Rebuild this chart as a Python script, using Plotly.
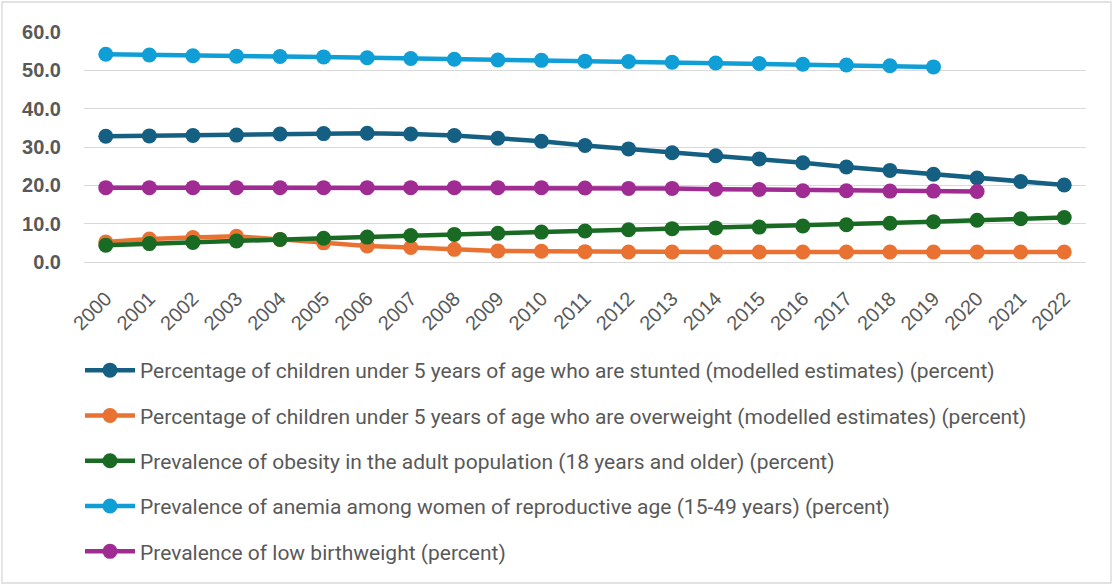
import plotly.graph_objects as go

years = [str(y) for y in range(2000, 2023)]

stunted = [32.8, 32.9, 33.0, 33.1, 33.4, 33.5, 33.6, 33.4, 33.0, 32.3, 31.5, 30.4,
           29.5, 28.5, 27.7, 26.9, 25.9, 24.8, 23.9, 22.9, 21.9, 21.0, 20.1]
overweight = [5.2, 6.0, 6.4, 6.7, 5.9, 5.0, 4.2, 3.8, 3.3, 2.9, 2.8, 2.7,
              2.6, 2.6, 2.6, 2.6, 2.6, 2.6, 2.6, 2.6, 2.6, 2.6, 2.6]
obesity = [4.4, 4.8, 5.1, 5.5, 5.9, 6.2, 6.5, 6.9, 7.2, 7.5, 7.8, 8.1,
           8.4, 8.7, 8.9, 9.1, 9.4, 9.7, 10.1, 10.5, 10.9, 11.3, 11.6]
anemia = [54.2, 54.0, 53.8, 53.7, 53.6, 53.5, 53.3, 53.1, 52.9, 52.7, 52.6, 52.4,
          52.3, 52.1, 51.9, 51.8, 51.6, 51.4, 51.2, 50.9]
low_bw = [19.4, 19.4, 19.4, 19.4, 19.4, 19.4, 19.4, 19.4, 19.4, 19.4, 19.4, 19.3,
          19.2, 19.2, 19.0, 18.9, 18.6, 18.6, 18.5, 18.5, 18.4]

names = [
    "Percentage of children under 5 years of age who are stunted (modelled estimates) (percent)",
    "Percentage of children under 5 years of age who are overweight (modelled estimates) (percent)",
    "Prevalence of obesity in the adult population (18 years and older) (percent)",
    "Prevalence of anemia among women of reproductive age (15-49 years) (percent)",
    "Prevalence of low birthweight (percent)",
]
series = [stunted, overweight, obesity, anemia, low_bw]
colors = ["#156082", "#E97132", "#196B24", "#0F9ED5", "#A02B93"]

fig = go.Figure()
for i, (nm, vals, col) in enumerate(zip(names, series, colors)):
    fig.add_trace(go.Scatter(
        x=years[:len(vals)], y=vals, name=nm, mode="lines+markers",
        line=dict(color=col, width=4.5),
        marker=dict(color=col, size=15),
        cliponaxis=False, legendgroup=str(i),
    ))

W, H = 1114, 586
L, R, T, B = 84, 28, 32, 324
pw, ph = W - L - R, H - T - B

fig.update_layout(
    width=W, height=H,
    margin=dict(l=L, r=R, t=T, b=B),
    paper_bgcolor="white", plot_bgcolor="white",
    font=dict(family="Roboto, Arial", color="#595959"),
    showlegend=True,
    legend=dict(
        x=(80 - L) / pw, y=1 - (350 - T) / ph, xanchor="left", yanchor="top",
        font=dict(size=21, color="#595959", family="Roboto, Arial"),
        tracegroupgap=15, itemwidth=50,
        bgcolor="rgba(0,0,0,0)",
    ),
    xaxis=dict(
        type="category", range=[-0.5, 22.5], showgrid=False, zeroline=False,
        showline=False, tickangle=-45,
        tickfont=dict(size=20, color="#595959", family="Liberation Sans, Arial"),
        ticks="outside", ticklen=16, tickcolor="rgba(0,0,0,0)",
    ),
    yaxis=dict(
        range=[0, 60], dtick=10, tickformat=".1f",
        showgrid=True, gridcolor="#D9D9D9", gridwidth=1.3,
        zeroline=True, zerolinecolor="#D9D9D9", zerolinewidth=1.3,
        showline=False,
        tickfont=dict(size=20, color="#595959", family="Liberation Sans, Arial", weight="bold"),
        ticks="", ticklabelstandoff=22,
    ),
    shapes=[dict(
        type="rect", xref="paper", yref="paper",
        x0=(2 - L) / pw, x1=(1111 - L) / pw,
        y0=1 - (583 - T) / ph, y1=1 - (2 - T) / ph,
        line=dict(color="#D9D9D9", width=1.3), fillcolor="rgba(0,0,0,0)", layer="below",
    )],
)

fig.write_html("out.html")
